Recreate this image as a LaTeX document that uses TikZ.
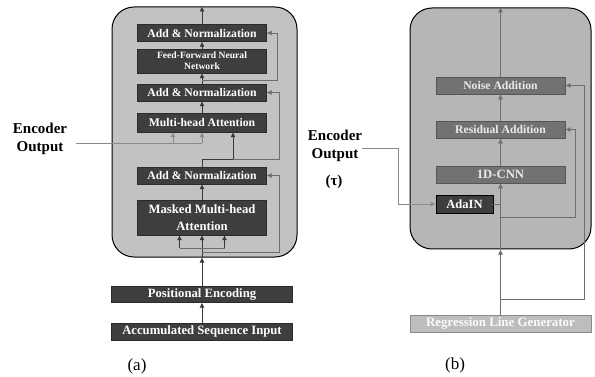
\documentclass[tikz,border=0pt]{standalone}
\usepackage{fontspec}
\setmainfont{Liberation Serif}
\usetikzlibrary{arrows.meta}
\definecolor{panelA}{HTML}{C2C2C2}
\definecolor{panelB}{HTML}{B6B6B6}
\definecolor{boxA}{HTML}{3E3E3E}
\definecolor{boxB}{HTML}{727272}
\definecolor{boxBd}{HTML}{555555}
\definecolor{regc}{HTML}{BDBDBD}
\definecolor{lineA}{HTML}{3A3A3A}
\definecolor{lineR}{HTML}{6E6E6E}
\definecolor{lineG}{HTML}{8A8A8A}
\tikzset{
  panel/.style={draw=black, line width=1pt, rounded corners=22pt, inner sep=0pt},
  lbox/.style={fill=boxA, draw=boxA!70!black, text=white, font=\bfseries\fontsize{11.7}{14}\selectfont, minimum width=129pt, inner sep=0pt, align=center},
  rbox/.style={fill=boxB, draw=boxBd, line width=0.8pt, text=white!92!black, font=\bfseries\fontsize{11.7}{14}\selectfont, minimum width=129pt, minimum height=17pt, inner sep=0pt},
  ln/.style={draw=lineA, line width=0.7pt},
  arr/.style={ln, -{Latex[length=5pt,width=5pt]}},
  rl/.style={draw=lineR, line width=0.6pt},
  rarr/.style={rl, -{Latex[length=5pt,width=5pt]}},
  gl/.style={draw=lineG, line width=0.6pt},
  garr/.style={gl, -{Latex[length=5pt,width=5pt]}},
  lbl/.style={font=\bfseries\fontsize{15}{18}\selectfont, align=center, inner sep=0pt},
  captext/.style={font=\fontsize{17}{20}\selectfont, inner sep=0pt}
}
\begin{document}
\begin{tikzpicture}[x=1pt,y=-1pt]
\useasboundingbox (0,0) rectangle (595,377);
% panels
\node[panel, fill=panelA, minimum width=185pt, minimum height=250pt] (pA) at (204.5,132) {};
\node[panel, fill=panelB, minimum width=181pt, minimum height=241pt] (pB) at (500.5,128.5) {};

% ---------- (a) ----------
\node[lbox, minimum height=17pt] (an1) at (202,33) {Add \& Normalization};
\node[lbox, minimum height=24pt, font=\bfseries\fontsize{9.6}{11}\selectfont] (ffn) at (202,61) {Feed-Forward Neural\\Network};
\node[lbox, minimum height=17pt] (an2) at (202,92.5) {Add \& Normalization};
\node[lbox, minimum height=19pt] (mha) at (202,122.5) {Multi-head Attention};
\node[lbox, minimum height=17pt] (an3) at (202,175.5) {Add \& Normalization};
\node[lbox, minimum height=35pt, font=\bfseries\fontsize{12.7}{17}\selectfont] (mmha) at (202,217.5) {Masked Multi-head\\Attention};
\node[lbox, minimum width=181pt, minimum height=16pt, font=\bfseries\fontsize{12.7}{15}\selectfont] (pe) at (202,294.5) {Positional Encoding};
\node[lbox, minimum width=181pt, minimum height=17pt, font=\bfseries\fontsize{12.7}{15}\selectfont] (asi) at (202,331.5) {Accumulated Sequence Input};

\draw[arr] (an1.north) -- (an1.north |- pA.north);
\draw[arr] (ffn.north) -- (an1.south);
\draw[arr] (an2.north) -- (ffn.south);
\draw[arr] (mha.north) -- (an2.south);
\draw[arr] (mmha.north) -- (an3.south);
\draw[arr] (asi.north) -- (pe.south);
\draw[arr] (pe.north) -- (pe.north |- pA.south);

\coordinate (lb1) at (202,248);
\coordinate (lb2) at (202,252);
\coordinate (mL) at (179.5,248);
\coordinate (mR) at (224.5,248);
\draw[ln] (pe.north |- pA.south) -- (lb1);
\draw[rl] (mL) -- (mR);
\draw[arr] (mL) -- (mL |- mmha.south);
\draw[arr] (lb1) -- (mmha.south);
\draw[arr] (mR) -- (mR |- mmha.south);

\coordinate (r3) at (279,252);
\draw[rarr] (lb2) -- (r3) |- (an3.east);

\coordinate (j2) at (202,159);
\coordinate (mhaIn) at (233,159);
\coordinate (r2) at (279,159);
\draw[ln] (an3.north) -- (j2);
\draw[arr] (j2) -- (mhaIn) -- (mhaIn |- mha.south);
\draw[rarr] (mhaIn) -- (r2) |- (an2.east);

\coordinate (j1) at (202,80);
\coordinate (r1) at (277,80);
\draw[rarr] (j1) -- (r1) |- (an1.east);

\node[lbl] (encA) at (40,139) {Encoder\\Output};
\coordinate (eA) at (76,143);
\coordinate (e1) at (173,143);
\coordinate (e2) at (202,143);
\draw[gl] (eA) -- (e2);
\draw[garr] (e1) -- (e1 |- mha.south);
\draw[garr] (e2) -- (mha.south);

\node[captext] (capA) at (137,366) {(a)};

% ---------- (b) ----------
\node[rbox] (noise) at (500.5,85.5) {Noise Addition};
\node[rbox] (resid) at (500.5,129.5) {Residual Addition};
\node[rbox, font=\bfseries\fontsize{12.7}{15}\selectfont] (cnn) at (500.5,174.5) {1D-CNN};
\node[lbox, draw=black, line width=0.9pt, minimum width=57pt, minimum height=18pt, font=\bfseries\fontsize{12.5}{15}\selectfont] (adain) at (464.5,204) {AdaIN};
\node[rbox, fill=regc, draw=lineG, text=white!94!regc, minimum width=181pt, font=\bfseries\fontsize{12.9}{15}\selectfont] (reg) at (500.5,323.5) {Regression Line Generator};

\draw[rarr] (noise.north) -- (noise.north |- pB.north);
\draw[rarr] (resid.north) -- (noise.south);
\draw[rarr] (cnn.north) -- (resid.south);
\draw[rarr] (reg.north) -- (reg.north |- pB.south);
\draw[rarr] (reg.north |- pB.south) -- (cnn.south);
\coordinate (ad) at (500.5,204);
\draw[rl] (adain.east) -- (ad);
\coordinate (s1) at (500.5,217);
\coordinate (s1r) at (575,217);
\draw[rarr] (s1) -- (s1r) |- (resid.east);
\coordinate (s2) at (500.5,299);
\coordinate (s2r) at (584,299);
\draw[rarr] (s2) -- (s2r) |- (noise.east);

\node[lbl] (encB) at (335,146) {Encoder\\Output};
\node[lbl] (tau) at (334,182) {(τ)};
\coordinate (eB) at (362,148);
\coordinate (eB2) at (398,148);
\draw[garr] (eB) -- (eB2) |- (adain.west);

\node[captext] (capB) at (455,365) {(b)};
\end{tikzpicture}
\end{document}
